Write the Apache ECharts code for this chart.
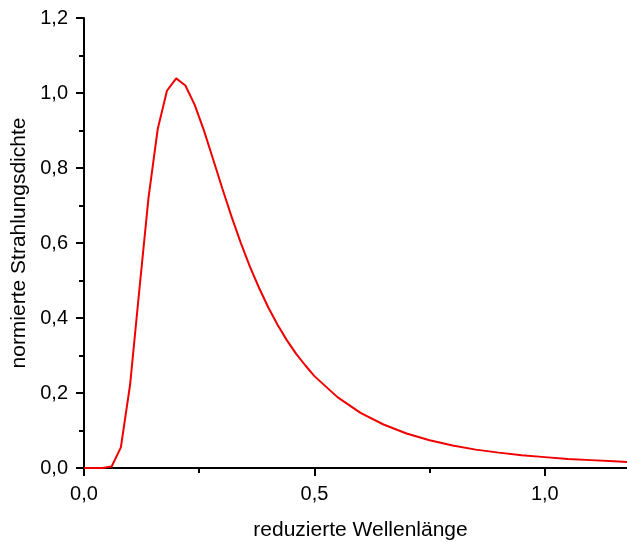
<!DOCTYPE html>
<html>
<head>
<meta charset="utf-8">
<script src="https://cdn.jsdelivr.net/npm/echarts@6/dist/echarts.min.js"></script>
<style>html,body{margin:0;padding:0;background:#fff;}#chart{width:627px;height:542px;}</style>
</head>
<body>
<div id="chart"></div>
<script>
var xValues = [0, 0.02, 0.04, 0.06, 0.08, 0.10, 0.12, 0.14, 0.16, 0.18, 0.20, 0.22, 0.24, 0.26, 0.28, 0.30, 0.32, 0.34, 0.36, 0.38, 0.40, 0.42, 0.44, 0.46, 0.48, 0.50, 0.55, 0.60, 0.65, 0.70, 0.75, 0.80, 0.85, 0.90, 0.95, 1.00, 1.05, 1.10, 1.15, 1.20];
var yValues = [0, 0, 0, 0.004, 0.055, 0.222, 0.474, 0.721, 0.904, 1.006, 1.039, 1.020, 0.969, 0.901, 0.824, 0.746, 0.671, 0.601, 0.537, 0.480, 0.428, 0.382, 0.341, 0.305, 0.274, 0.245, 0.189, 0.147, 0.116, 0.092, 0.074, 0.060, 0.049, 0.041, 0.034, 0.029, 0.024, 0.021, 0.018, 0.015];
var xAxisTitle = 'reduzierte Wellenlänge';
var yAxisTitle = 'normierte Strahlungsdichte';

var points = xValues.map(function (x, i) { return [x, yValues[i]]; });
var fmt = function (v) { return v.toFixed(1).replace('.', ','); };
var font = '"Liberation Sans", Arial, sans-serif';

var chart = echarts.init(document.getElementById('chart'), null, {renderer: 'canvas'});
chart.setOption({
  animation: false,
  backgroundColor: '#ffffff',
  grid: {left: 84, top: 18, width: 553, height: 450, containLabel: false, outerBoundsMode: 'none'},
  xAxis: {
    type: 'value', min: 0, max: 1.2, interval: 0.5,
    name: xAxisTitle, nameLocation: 'middle', nameGap: 52,
    nameTextStyle: {fontFamily: font, fontSize: 21, color: '#000'},
    axisLine: {show: true, onZero: false, lineStyle: {color: '#000', width: 2}},
    axisTick: {show: true, inside: false, length: 8, lineStyle: {color: '#000', width: 2}},
    minorTick: {show: true, splitNumber: 2, length: 5, lineStyle: {color: '#000', width: 2}},
    axisLabel: {formatter: fmt, fontFamily: font, fontSize: 20, color: '#000', margin: 16, showMaxLabel: false},
    splitLine: {show: false}
  },
  yAxis: {
    type: 'value', min: 0, max: 1.2, interval: 0.2,
    name: yAxisTitle, nameLocation: 'middle', nameGap: 54, nameRotate: 90,
    nameTextStyle: {fontFamily: font, fontSize: 21, color: '#000'},
    axisLine: {show: true, onZero: false, lineStyle: {color: '#000', width: 2}},
    axisTick: {show: true, inside: false, length: 8, lineStyle: {color: '#000', width: 2}},
    minorTick: {show: true, splitNumber: 2, length: 5, lineStyle: {color: '#000', width: 2}},
    axisLabel: {formatter: fmt, fontFamily: font, fontSize: 20, color: '#000', margin: 16},
    splitLine: {show: false}
  },
  series: [{
    type: 'line',
    data: points,
    showSymbol: false,
    symbol: 'none',
    smooth: false,
    clip: true,
    lineStyle: {color: '#f00000', width: 2}
  }]
});
</script>
</body>
</html>
